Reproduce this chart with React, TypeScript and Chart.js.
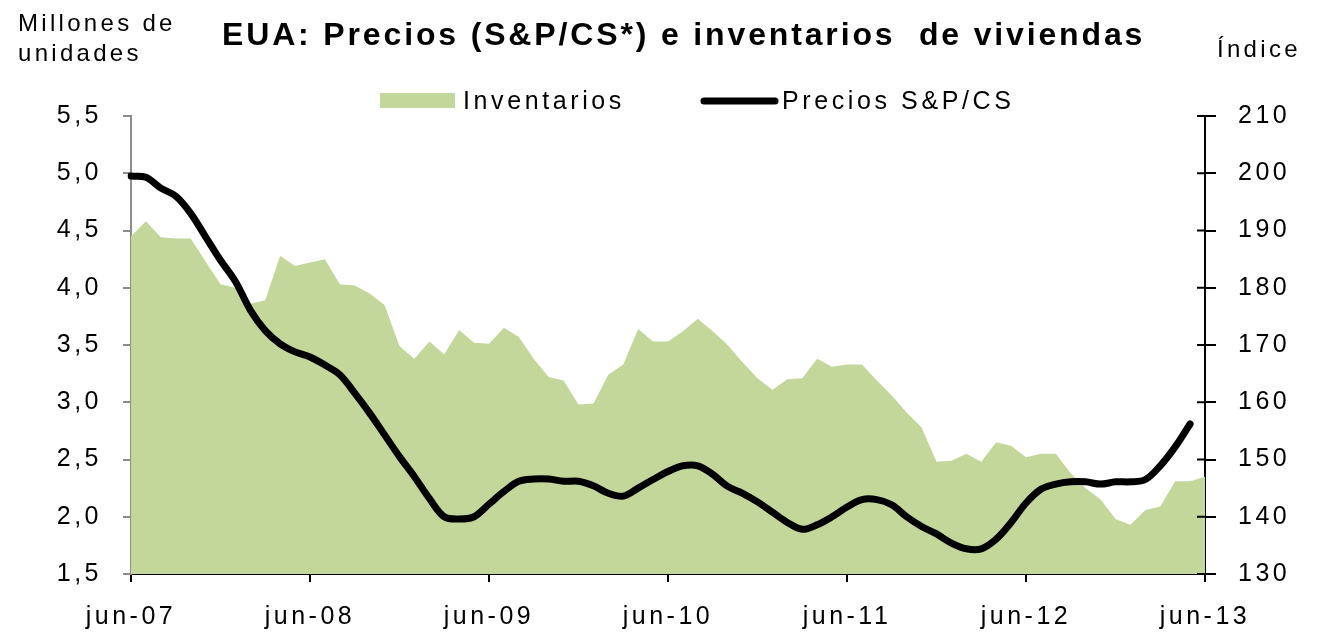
import React, { useEffect, useRef } from 'react';
import { Chart, registerables } from 'chart.js';

Chart.register(...registerables);

const months = [
  'jun-07', 'jul-07', 'ago-07', 'sep-07', 'oct-07', 'nov-07', 'dic-07', 'ene-08', 'feb-08', 'mar-08', 'abr-08', 'may-08',
  'jun-08', 'jul-08', 'ago-08', 'sep-08', 'oct-08', 'nov-08', 'dic-08', 'ene-09', 'feb-09', 'mar-09', 'abr-09', 'may-09',
  'jun-09', 'jul-09', 'ago-09', 'sep-09', 'oct-09', 'nov-09', 'dic-09', 'ene-10', 'feb-10', 'mar-10', 'abr-10', 'may-10',
  'jun-10', 'jul-10', 'ago-10', 'sep-10', 'oct-10', 'nov-10', 'dic-10', 'ene-11', 'feb-11', 'mar-11', 'abr-11', 'may-11',
  'jun-11', 'jul-11', 'ago-11', 'sep-11', 'oct-11', 'nov-11', 'dic-11', 'ene-12', 'feb-12', 'mar-12', 'abr-12', 'may-12',
  'jun-12', 'jul-12', 'ago-12', 'sep-12', 'oct-12', 'nov-12', 'dic-12', 'ene-13', 'feb-13', 'mar-13', 'abr-13', 'may-13',
  'jun-13',
];

const shownTickLabels = ['jun-07', 'jun-08', 'jun-09', 'jun-10', 'jun-11', 'jun-12', 'jun-13'];

const inventarios = [
  4.45, 4.58, 4.44, 4.43, 4.43, 4.23, 4.03, 4.0, 3.86, 3.89, 4.28, 4.19,
  4.22, 4.25, 4.03, 4.02, 3.95, 3.85, 3.49, 3.38, 3.53, 3.42, 3.63, 3.52,
  3.51, 3.65, 3.57, 3.38, 3.22, 3.19, 2.98, 2.99, 3.24, 3.33, 3.64, 3.53,
  3.53, 3.62, 3.73, 3.62, 3.5, 3.35, 3.21, 3.11, 3.2, 3.21, 3.38, 3.31,
  3.33, 3.33, 3.19, 3.06, 2.91, 2.78, 2.48, 2.49, 2.55, 2.48, 2.65, 2.62,
  2.52, 2.55, 2.55, 2.38, 2.25, 2.15, 1.98, 1.93, 2.06, 2.09, 2.31, 2.31,
  2.35,
];

const precios = [
  199.5, 199.3, 197.4, 196.0, 193.0, 188.9, 184.8, 181.1, 176.1, 172.5, 170.2, 168.8,
  167.9, 166.5, 164.8, 161.6, 158.1, 154.3, 150.5, 147.0, 143.2, 140.0, 139.6, 140.0,
  142.2, 144.4, 146.2, 146.6, 146.6, 146.2, 146.2, 145.4, 144.1, 143.6, 145.0, 146.5,
  147.9, 148.9, 148.9, 147.4, 145.3, 144.1, 142.6, 140.8, 139.0, 137.8, 138.6, 140.0,
  141.7, 143.0, 143.0, 142.1, 140.0, 138.3, 137.0, 135.4, 134.4, 134.4, 136.1, 139.0,
  142.4, 144.8, 145.7, 146.1, 146.1, 145.7, 146.1, 146.1, 146.5, 148.9, 152.2, 156.2,
  null,
];

const TITLE = 'EUA: Precios (S&P/CS*) e inventarios  de viviendas';
const LEFT_TITLE = ['Millones de', 'unidades'];
const RIGHT_TITLE = 'Índice';
const LABEL_INV = 'Inventarios';
const LABEL_PRE = 'Precios S&P/CS';

const GREEN = '#c4d79b';
const FONT = '"Liberation Sans", Arial, sans-serif';

const decorPlugin = {
  id: 'decor',
  beforeDraw(chart: any) {
    (chart.ctx as any).letterSpacing = '3.5px';
  },
  afterDraw(chart: any) {
    const ctx = chart.ctx as any;
    const y1 = chart.scales.y1;
    const area = chart.chartArea;
    ctx.save();
    ctx.strokeStyle = '#000';
    ctx.lineWidth = 2;
    for (let v = y1.min; v <= y1.max; v += 10) {
      const py = y1.getPixelForValue(v);
      ctx.beginPath();
      ctx.moveTo(area.right - 8, py);
      ctx.lineTo(area.right, py);
      ctx.stroke();
    }
    ctx.fillStyle = '#000';
    ctx.textBaseline = 'alphabetic';
    ctx.textAlign = 'left';
    ctx.font = `bold 32px ${FONT}`;
    ctx.letterSpacing = '2.85px';
    ctx.fillText(TITLE, 222, 45);
    ctx.font = `24px ${FONT}`;
    ctx.letterSpacing = '3.3px';
    ctx.fillText(LEFT_TITLE[0], 18, 31);
    ctx.fillText(LEFT_TITLE[1], 18, 61);
    ctx.fillText(RIGHT_TITLE, 1217, 57);
    ctx.fillStyle = GREEN;
    ctx.fillRect(380, 93, 75, 15);
    ctx.strokeStyle = '#000';
    ctx.lineWidth = 7;
    ctx.lineCap = 'round';
    ctx.beginPath();
    ctx.moveTo(704, 101);
    ctx.lineTo(775, 101);
    ctx.stroke();
    ctx.fillStyle = '#000';
    ctx.font = `25px ${FONT}`;
    ctx.letterSpacing = '3.6px';
    ctx.textBaseline = 'middle';
    ctx.fillText(LABEL_INV, 463, 102);
    ctx.fillText(LABEL_PRE, 782, 102);
    ctx.restore();
  },
};

export default function App() {
  const ref = useRef<HTMLCanvasElement>(null);

  useEffect(() => {
    if (!ref.current) return;
    const chart = new Chart(ref.current, {
      type: 'line',
      data: {
        labels: months,
        datasets: [
          {
            label: LABEL_INV,
            data: inventarios,
            yAxisID: 'y',
            backgroundColor: GREEN,
            borderWidth: 0,
            borderColor: GREEN,
            fill: 'start',
            pointRadius: 0,
            tension: 0,
            order: 2,
          },
          {
            label: LABEL_PRE,
            data: precios,
            yAxisID: 'y1',
            borderColor: '#000',
            borderWidth: 7,
            borderCapStyle: 'round',
            borderJoinStyle: 'round',
            fill: false,
            pointRadius: 0,
            tension: 0.35,
            spanGaps: false,
            order: 1,
          },
        ],
      },
      options: {
        animation: false,
        responsive: false,
        maintainAspectRatio: false,
        layout: { padding: { top: 116, left: 0, right: 0, bottom: 0 } },
        plugins: {
          legend: { display: false },
          title: { display: false },
          tooltip: { enabled: false },
        },
        scales: {
          x: {
            type: 'category',
            offset: false,
            afterFit: (s: any) => { s.height = 62; },
            grid: {
              drawOnChartArea: false,
              drawTicks: true,
              tickLength: 8,
              lineWidth: 2,
              color: (c: any) => (c.index % 12 === 0 ? '#000' : 'rgba(0,0,0,0)'),
            },
            border: { display: true, color: '#000', width: 2 },
            ticks: {
              autoSkip: false,
              maxRotation: 0,
              minRotation: 0,
              padding: 20,
              color: '#000',
              font: { family: FONT, size: 25 },
              callback: (_v: any, i: number) =>
                shownTickLabels.includes(months[i]) ? months[i] : '',
            },
          },
          y: {
            position: 'left',
            min: 1.5,
            max: 5.5,
            afterFit: (s: any) => { s.width = 131; },
            grid: {
              drawOnChartArea: false,
              tickLength: 8,
              lineWidth: 2,
              color: '#8c8c8c',
            },
            border: { display: true, color: '#8c8c8c', width: 2 },
            ticks: {
              stepSize: 0.5,
              padding: 21,
              color: '#000',
              font: { family: FONT, size: 25 },
              callback: (v: any) => Number(v).toFixed(1).replace('.', ','),
            },
          },
          y1: {
            position: 'right',
            min: 130,
            max: 210,
            afterFit: (s: any) => { s.width = 132; },
            grid: {
              drawOnChartArea: false,
              tickLength: 11,
              lineWidth: 2,
              color: '#000',
            },
            border: { display: true, color: '#000', width: 2 },
            ticks: {
              stepSize: 10,
              padding: 22,
              color: '#000',
              font: { family: FONT, size: 25 },
            },
          },
        },
      },
      plugins: [decorPlugin],
    } as any);
    return () => chart.destroy();
  }, []);

  return (
    <div style={{ position: 'fixed', left: 0, top: 0, width: 1337, height: 636, background: '#fff' }}>
      <canvas ref={ref} width={1337} height={636} />
    </div>
  );
}
